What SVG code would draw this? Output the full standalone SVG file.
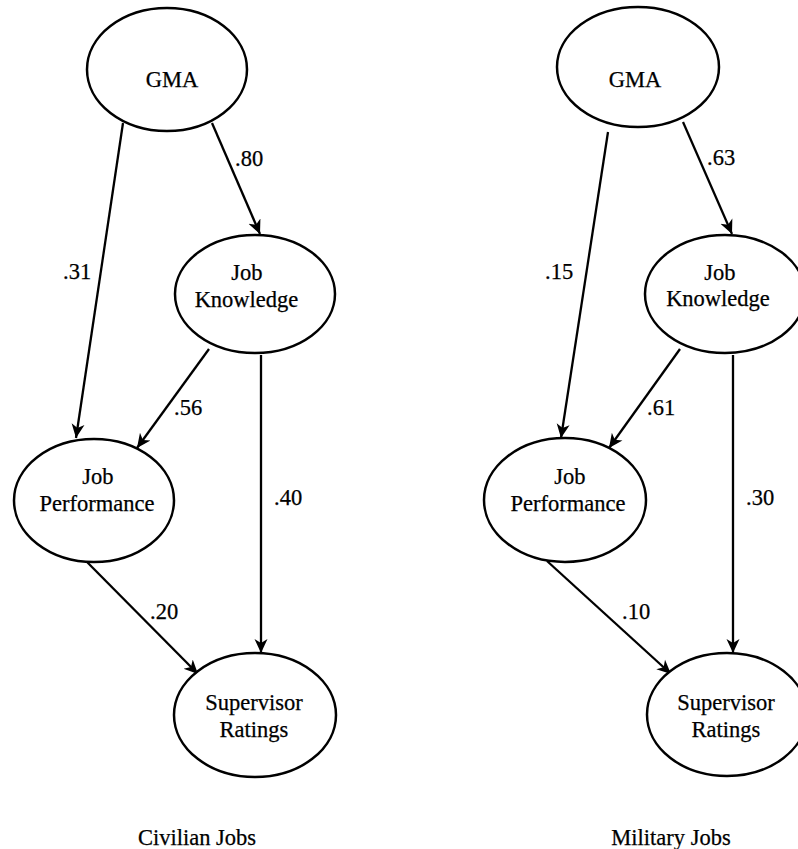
<svg xmlns="http://www.w3.org/2000/svg" width="798" height="849" viewBox="0 0 798 849">
<style>
  .node ellipse { fill: #ffffff; stroke: #000000; stroke-width: 2.5; }
  text { font-family: "Liberation Serif", "Times New Roman", serif; font-size: 22.5px; fill: #000000; stroke: #000000; stroke-width: 0.25; }
  .lbl { text-anchor: middle; }
  .conn line { stroke: #000000; stroke-width: 2.3; marker-end: url(#arr); }
</style>
<defs>
  <marker id="arr" markerUnits="userSpaceOnUse" markerWidth="16" markerHeight="16" refX="14" refY="7.5" orient="auto" viewBox="0 0 16 15">
    <path d="M0,1 L14,7.5 L0,14 L4,7.5 z" fill="#000000"/>
  </marker>
</defs>
<rect width="798" height="849" fill="#ffffff"/>

<g id="connectors" class="conn">
  <line x1="212" y1="123" x2="260" y2="234"/>
  <line x1="123" y1="123" x2="76" y2="438"/>
  <line x1="209" y1="349" x2="137" y2="448"/>
  <line x1="261" y1="355" x2="261" y2="653"/>
  <line x1="87" y1="562" x2="198" y2="674"/>
  <line x1="683" y1="122" x2="732" y2="234"/>
  <line x1="608" y1="132" x2="561" y2="438"/>
  <line x1="680" y1="349" x2="609" y2="448"/>
  <line x1="733" y1="355" x2="733" y2="653"/>
  <line x1="547" y1="561" x2="671" y2="674"/>
</g>

<g id="edge-labels">
  <text x="235" y="166">.80</text>
  <text x="63" y="279">.31</text>
  <text x="174" y="415">.56</text>
  <text x="274" y="505">.40</text>
  <text x="150" y="619">.20</text>
  <text x="707" y="165">.63</text>
  <text x="545" y="279">.15</text>
  <text x="647" y="415">.61</text>
  <text x="746" y="505">.30</text>
  <text x="622" y="619">.10</text>
</g>

<g id="civ-gma" class="node">
  <ellipse cx="167" cy="69.5" rx="80" ry="61.5"/>
  <text class="lbl" x="172" y="87">GMA</text>
</g>
<g id="civ-jk" class="node">
  <ellipse cx="255" cy="294" rx="80" ry="59"/>
  <text class="lbl" x="247" y="280">Job</text>
  <text class="lbl" x="246.5" y="307">Knowledge</text>
</g>
<g id="civ-jp" class="node">
  <ellipse cx="94" cy="500.5" rx="80" ry="61.5"/>
  <text class="lbl" x="98" y="484">Job</text>
  <text class="lbl" x="97" y="511">Performance</text>
</g>
<g id="civ-sr" class="node">
  <ellipse cx="255" cy="715" rx="81" ry="62"/>
  <text class="lbl" x="254" y="710">Supervisor</text>
  <text class="lbl" x="254" y="737">Ratings</text>
</g>
<text id="civ-title" class="lbl" x="197" y="845">Civilian Jobs</text>

<g id="mil-gma" class="node">
  <ellipse cx="638" cy="67" rx="81" ry="60"/>
  <text class="lbl" x="635" y="87">GMA</text>
</g>
<g id="mil-jk" class="node">
  <ellipse cx="725" cy="294" rx="80" ry="59"/>
  <text class="lbl" x="720" y="280">Job</text>
  <text class="lbl" x="718" y="306">Knowledge</text>
</g>
<g id="mil-jp" class="node">
  <ellipse cx="565" cy="500" rx="81" ry="62"/>
  <text class="lbl" x="570" y="484">Job</text>
  <text class="lbl" x="568" y="511">Performance</text>
</g>
<g id="mil-sr" class="node">
  <ellipse cx="727" cy="714.5" rx="80" ry="61.5"/>
  <text class="lbl" x="726" y="710">Supervisor</text>
  <text class="lbl" x="726" y="737">Ratings</text>
</g>
<text id="mil-title" class="lbl" x="671" y="845">Military Jobs</text>
</svg>
